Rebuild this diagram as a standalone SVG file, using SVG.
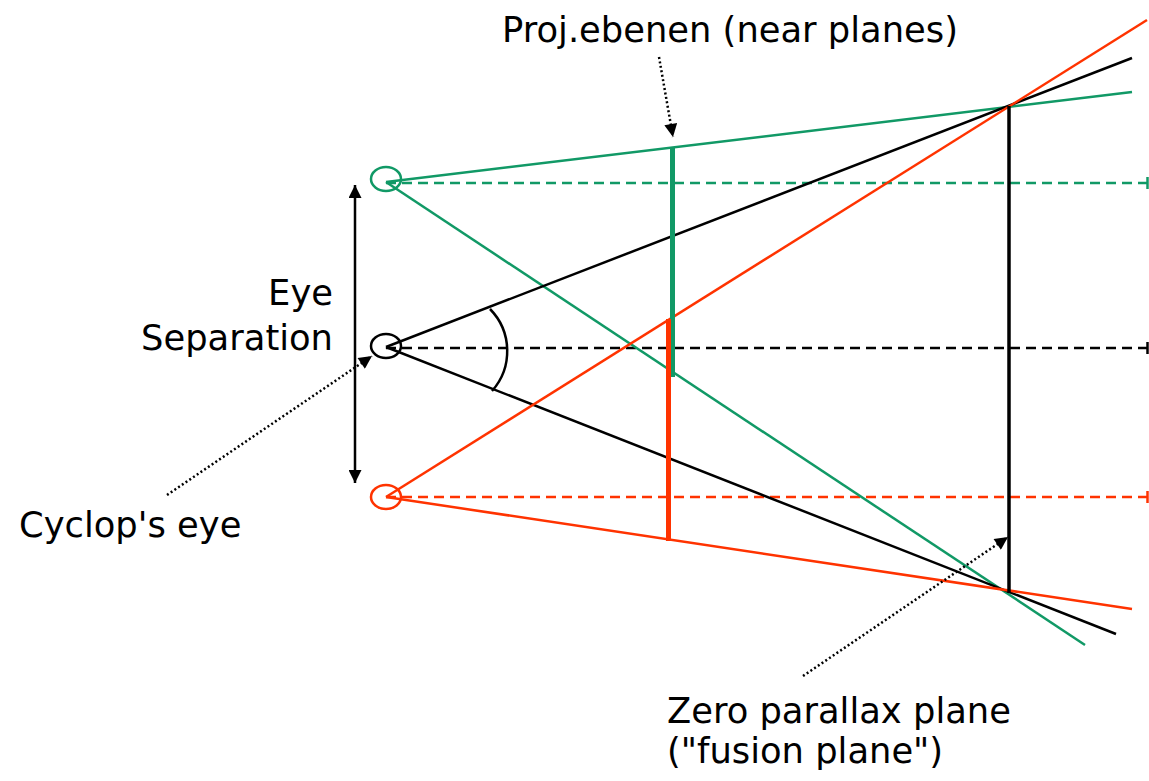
<svg xmlns="http://www.w3.org/2000/svg" width="1149" height="781" viewBox="0 0 1149 781">
<style>
.t{font-family:"DejaVu Sans",sans-serif;font-size:35.3px;fill:#000}
.g{stroke:#119966;fill:none;stroke-width:2.5}
.r{stroke:#ff3300;fill:none;stroke-width:2.5}
.k{stroke:#000;fill:none;stroke-width:2.5}
.d{stroke-dasharray:10,6}
.dot{stroke:#000;fill:none;stroke-width:2.5;stroke-dasharray:2,2.5}
</style>
<defs>
<marker id="ah" viewBox="0 0 10 10" refX="10" refY="5" markerWidth="16" markerHeight="13" markerUnits="userSpaceOnUse" orient="auto">
<path d="M0,0 L10,5 L0,10 Z" fill="#000"/>
</marker>
<marker id="ah2" viewBox="0 0 10 10" refX="10" refY="5" markerWidth="15" markerHeight="13" markerUnits="userSpaceOnUse" orient="auto-start-reverse">
<path d="M0,0 L10,5 L0,10 Z" fill="#000"/>
</marker>
</defs>
<rect width="1149" height="781" fill="#fff"/>
<g id="connectors">
<line class="g d" x1="386" y1="183" x2="1147" y2="183"/>
<line x1="1147.5" y1="177" x2="1147.5" y2="189" stroke="#119966" stroke-width="2.5"/>
<line class="k d" x1="386" y1="348" x2="1147" y2="348"/>
<line x1="1147.5" y1="342" x2="1147.5" y2="354" stroke="#000" stroke-width="2.5"/>
<line class="r d" x1="386" y1="497" x2="1147" y2="497"/>
<line x1="1147.5" y1="491" x2="1147.5" y2="503" stroke="#ff3300" stroke-width="2.5"/>
<line class="g" x1="386" y1="182" x2="1132" y2="92"/>
<line class="g" x1="386" y1="182" x2="1085" y2="645"/>
<line class="k" x1="386" y1="347" x2="1132" y2="58"/>
<line class="k" x1="386" y1="347" x2="1116" y2="634"/>
<line class="r" x1="386" y1="497" x2="1147" y2="20"/>
<line class="r" x1="386" y1="497" x2="1132" y2="609"/>
<path class="k" d="M490,309 A60,60 0 0 1 492,391"/>
<line x1="355" y1="185" x2="355" y2="483" stroke="#000" stroke-width="2.5" marker-start="url(#ah2)" marker-end="url(#ah2)"/>
<line class="dot" x1="659" y1="57" x2="673" y2="137" marker-end="url(#ah)"/>
<line class="dot" x1="167" y1="495" x2="372" y2="356" marker-end="url(#ah)"/>
<line class="dot" x1="803" y1="676" x2="1008" y2="537" marker-end="url(#ah)"/>
</g>
<g id="near-plane-green"><line x1="672.5" y1="147" x2="672.5" y2="377" stroke="#119966" stroke-width="5"/></g>
<g id="near-plane-red"><line x1="668.5" y1="319" x2="668.5" y2="541" stroke="#ff3300" stroke-width="5"/></g>
<g id="zero-parallax-plane"><line x1="1009" y1="106" x2="1009" y2="593" stroke="#000" stroke-width="3.5"/></g>
<g id="left-eye"><ellipse cx="386" cy="179" rx="15" ry="12" class="g"/></g>
<g id="cyclop-eye"><ellipse cx="386" cy="346" rx="15" ry="12" class="k"/></g>
<g id="right-eye"><ellipse cx="386" cy="497" rx="15" ry="12" class="r"/></g>
<g id="labels">
<text class="t" x="730" y="42" text-anchor="middle">Proj.ebenen (near planes)</text>
<text class="t" x="333" y="305" text-anchor="end">Eye</text>
<text class="t" x="333" y="350" text-anchor="end">Separation</text>
<text class="t" x="19" y="537">Cyclop's eye</text>
<text class="t" x="667" y="723">Zero parallax plane</text>
<text class="t" x="667" y="763">("fusion plane")</text>
</g>
</svg>
